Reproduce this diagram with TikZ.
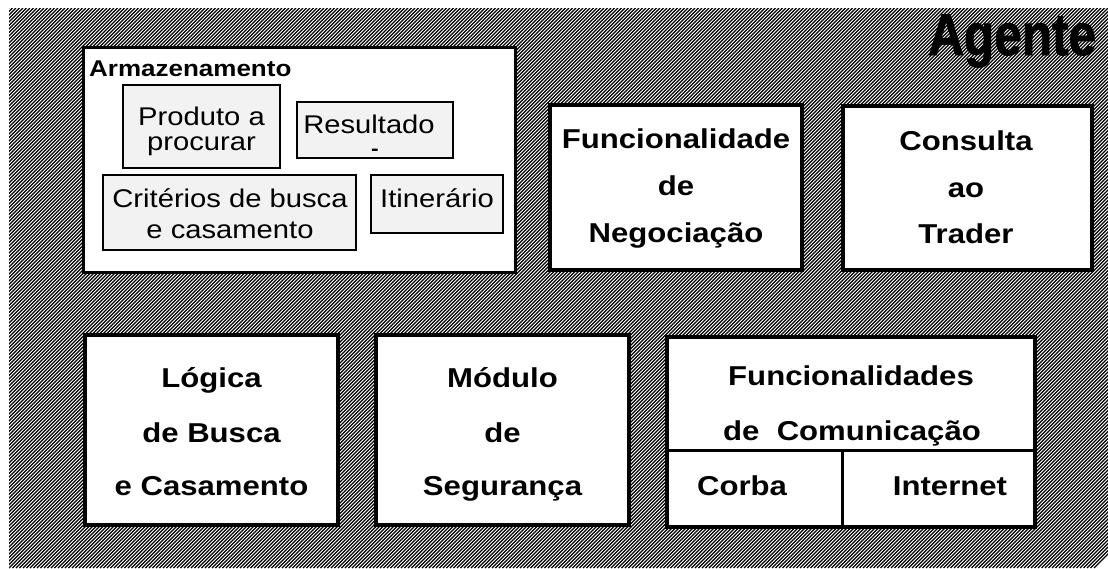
\documentclass[tikz,border=0pt]{standalone}
\usepackage{fontspec}
\setmainfont{Liberation Sans}[FakeStretch=1.14]
\newfontfamily\agfont{Liberation Sans}[FakeStretch=0.84,FakeBold=1.2]
\tikzset{
  bigbox/.style={draw=black, line width=3.2pt, fill=white, inner sep=0pt},
  storebox/.style={draw=black, line width=3pt, fill=white, inner sep=0pt},
  subbox/.style={draw=black, line width=1.8pt, fill=gray!10, inner sep=0pt},
  btxt/.style={anchor=base, inner sep=0pt, font=\fontsize{27.3}{27.3}\selectfont\bfseries},
  rtxt/.style={anchor=base, inner sep=0pt, font=\fontsize{25.6}{25.6}\selectfont},
  divline/.style={draw=black, line width=3pt}
}
\begin{document}
\begin{tikzpicture}[x=1pt,y=-1pt]
\useasboundingbox (0,0) rectangle (1108,568);
% hatched background
\begin{scope}
  \clip (9,8) rectangle (1108,568);
  \foreach \i in {0,...,470} {
    \draw[line width=1.2pt] ({9-560+\i*3.5},568) -- ++(560,-560);
  }
\end{scope}
% title
\node[anchor=base west, inner sep=0pt, font=\agfont\fontsize{59}{59}\selectfont\bfseries] (agente) at (928,55) {Agente};

% storage box
\node[storebox, minimum width=432pt, minimum height=225pt] (store) at (299,159.5) {};
\node[anchor=base west, inner sep=0pt, font=\fontsize{22.8}{22.8}\selectfont\bfseries] (storelbl) at (89,76) {Armazenamento};

\node[subbox, minimum width=157pt, minimum height=83pt] (prod) at (201.5,126.5) {};
\node[rtxt] (prodA) at (201.5,125) {Produto a};
\node[rtxt] (prodB) at (201.5,150) {procurar};

\node[subbox, minimum width=156pt, minimum height=56pt] (res) at (375,130) {};
\node[rtxt] (resA) at (369,133) {Resultado};
\node[anchor=center, inner sep=0pt, font=\fontsize{20}{20}\selectfont\bfseries] (resB) at (375,152) {-};

\node[subbox, minimum width=253pt, minimum height=75pt] (crit) at (229.5,212.5) {};
\node[rtxt] (critA) at (230,207) {Critérios de busca};
\node[rtxt] (critB) at (230,238) {e casamento};

\node[subbox, minimum width=132pt, minimum height=58pt] (itin) at (437,204) {};
\node[rtxt] (itinA) at (437,207) {Itinerário};

% negotiation
\node[bigbox, minimum width=252pt, minimum height=165pt] (neg) at (676,187.5) {};
\node[btxt] (negA) at (676,148) {Funcionalidade};
\node[btxt] (negB) at (676,195) {de};
\node[btxt] (negC) at (676,242) {Negociação};

% trader
\node[bigbox, minimum width=249pt, minimum height=164pt] (trd) at (967.5,188) {};
\node[btxt] (trdA) at (966,150) {Consulta};
\node[btxt] (trdB) at (966,197) {ao};
\node[btxt] (trdC) at (966,243) {Trader};

% logic
\node[bigbox, minimum width=253pt, minimum height=190pt] (log) at (211.5,430) {};
\node[btxt] (logA) at (211.5,387) {Lógica};
\node[btxt] (logB) at (211.5,442) {de Busca};
\node[btxt] (logC) at (211.5,495) {e Casamento};

% security
\node[bigbox, minimum width=253pt, minimum height=190pt] (sec) at (502.5,430) {};
\node[btxt] (secA) at (502.5,387) {Módulo};
\node[btxt] (secB) at (502.5,442) {de};
\node[btxt] (secC) at (502.5,495) {Segurança};

% communication
\node[bigbox, minimum width=368pt, minimum height=190pt] (com) at (851,432) {};
\coordinate (divL) at (667,450);
\coordinate (divR) at (1035,450);
\coordinate (divT) at (842,450);
\coordinate (divB) at (842,527);
\draw[divline] (divL) -- (divR);
\draw[divline] (divT) -- (divB);
\node[btxt] (comA) at (851,385) {Funcionalidades};
\node[btxt] (comB) at (852,440) {de\ \ Comunicação};
\node[btxt] (corba) at (742,495) {Corba};
\node[btxt] (inet) at (950,495) {Internet};
\end{tikzpicture}
\end{document}
